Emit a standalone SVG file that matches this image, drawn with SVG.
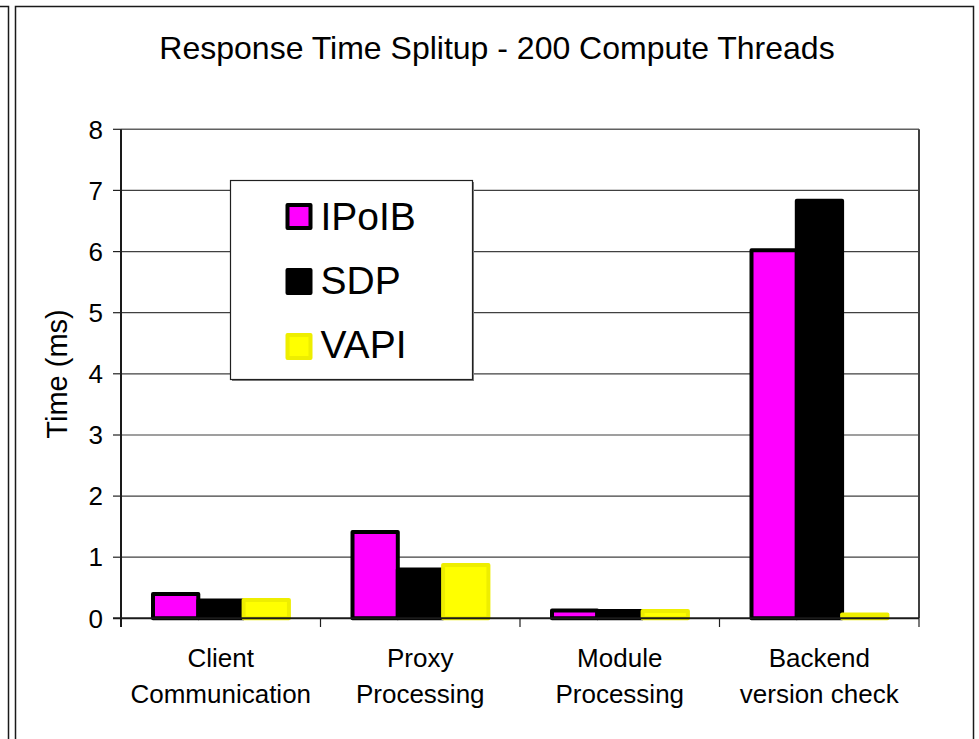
<svg xmlns="http://www.w3.org/2000/svg" width="979" height="739" viewBox="0 0 979 739">
<style>
text{font-family:"Liberation Sans",Arial,sans-serif;fill:#000}
.frame{fill:none;stroke:#1a1a1a;stroke-width:1.5}
.grid{stroke:#404040;stroke-width:1.2}
.tick{stroke:#202020;stroke-width:1.2}
.ipoib{fill:#ff00ff;stroke:#000;stroke-width:4;stroke-linejoin:round}
.sdp{fill:#000;stroke:#000;stroke-width:4;stroke-linejoin:round}
.vapi{fill:#ffff00;stroke:#eeee00;stroke-width:4;stroke-linejoin:round}
.ylab{font-size:26px;text-anchor:end}
.xlab{font-size:26px;text-anchor:middle}
.leg{font-size:39px}
</style>
<rect width="979" height="739" fill="#fff"/>
<g id="frames">
<rect class="frame" x="-20" y="6.5" width="28.5" height="760"/>
<rect class="frame" x="15.5" y="6.5" width="958" height="760"/>
</g>
<g id="title"><text x="497" y="59" font-size="32" text-anchor="middle">Response Time Splitup - 200 Compute Threads</text></g>
<g id="gridlines">
<line class="grid" x1="121" y1="190.4" x2="919" y2="190.4"/>
<line class="grid" x1="121" y1="251.6" x2="919" y2="251.6"/>
<line class="grid" x1="121" y1="312.7" x2="919" y2="312.7"/>
<line class="grid" x1="121" y1="373.8" x2="919" y2="373.8"/>
<line class="grid" x1="121" y1="435" x2="919" y2="435"/>
<line class="grid" x1="121" y1="496.1" x2="919" y2="496.1"/>
<line class="grid" x1="121" y1="557.2" x2="919" y2="557.2"/>
<line x1="121" y1="129.3" x2="919" y2="129.3" stroke="#606060" stroke-width="1.5"/>
<line x1="919" y1="129.3" x2="919" y2="618.3" stroke="#404040" stroke-width="2"/>
</g>
<g id="bars">
<rect class="ipoib" x="153" y="593.9" width="45.3" height="24.4"/>
<rect class="sdp" x="198.3" y="600.6" width="45.3" height="17.7"/>
<rect class="vapi" x="243.6" y="600" width="45.3" height="18.3"/>
<rect class="ipoib" x="352.5" y="532.1" width="45.3" height="86.2"/>
<rect class="sdp" x="397.8" y="569.4" width="45.3" height="48.9"/>
<rect class="vapi" x="443.1" y="565.1" width="45.3" height="53.2"/>
<rect class="ipoib" x="552" y="610.4" width="45.3" height="7.9"/>
<rect class="sdp" x="597.3" y="611" width="45.3" height="7.3"/>
<rect class="vapi" x="642.6" y="611" width="45.3" height="7.3"/>
<rect class="ipoib" x="751.5" y="250.3" width="45.3" height="368"/>
<rect class="sdp" x="796.8" y="200.8" width="45.3" height="417.5"/>
<rect class="vapi" x="842.1" y="614.6" width="45.3" height="3.7"/>
</g>
<g id="axes">
<line x1="121" y1="129.3" x2="121" y2="627" stroke="#1a1a1a" stroke-width="2"/>
<line x1="113" y1="618.3" x2="919" y2="618.3" stroke="#1a1a1a" stroke-width="2"/>
<line class="tick" x1="113" y1="129.3" x2="121" y2="129.3"/>
<line class="tick" x1="113" y1="190.4" x2="121" y2="190.4"/>
<line class="tick" x1="113" y1="251.6" x2="121" y2="251.6"/>
<line class="tick" x1="113" y1="312.7" x2="121" y2="312.7"/>
<line class="tick" x1="113" y1="373.8" x2="121" y2="373.8"/>
<line class="tick" x1="113" y1="435" x2="121" y2="435"/>
<line class="tick" x1="113" y1="496.1" x2="121" y2="496.1"/>
<line class="tick" x1="113" y1="557.2" x2="121" y2="557.2"/>
<line class="tick" x1="320.5" y1="618.3" x2="320.5" y2="627"/>
<line class="tick" x1="520" y1="618.3" x2="520" y2="627"/>
<line class="tick" x1="719.5" y1="618.3" x2="719.5" y2="627"/>
<line class="tick" x1="919" y1="618.3" x2="919" y2="627"/>
<text class="ylab" x="103" y="138.5">8</text>
<text class="ylab" x="103" y="199.6">7</text>
<text class="ylab" x="103" y="260.8">6</text>
<text class="ylab" x="103" y="321.9">5</text>
<text class="ylab" x="103" y="383">4</text>
<text class="ylab" x="103" y="444.2">3</text>
<text class="ylab" x="103" y="505.3">2</text>
<text class="ylab" x="103" y="566.4">1</text>
<text class="ylab" x="103" y="627.5">0</text>
<text x="66.5" y="374" font-size="29" text-anchor="middle" transform="rotate(-90 66.5 374)">Time (ms)</text>
<text class="xlab" x="220.75" y="667">Client</text>
<text class="xlab" x="220.75" y="703">Communication</text>
<text class="xlab" x="420.25" y="667">Proxy</text>
<text class="xlab" x="420.25" y="703">Processing</text>
<text class="xlab" x="619.75" y="667">Module</text>
<text class="xlab" x="619.75" y="703">Processing</text>
<text class="xlab" x="819.25" y="667">Backend</text>
<text class="xlab" x="819.25" y="703">version check</text>
</g>
<g id="legend">
<rect x="232" y="182" width="242" height="199" fill="#808080"/>
<rect x="230.5" y="180.5" width="242" height="199" fill="#fff" stroke="#202020" stroke-width="1.2"/>
<rect class="ipoib" x="287.5" y="205" width="23" height="23" stroke-width="3.5"/>
<text class="leg" x="320.5" y="229.5">IPoIB</text>
<rect class="sdp" x="287.5" y="270" width="23" height="23" stroke-width="3.5"/>
<text class="leg" x="320.5" y="293.5">SDP</text>
<rect class="vapi" x="287.5" y="335" width="23" height="23" stroke-width="3.5"/>
<text class="leg" x="320.5" y="357.5">VAPI</text>
</g>
</svg>
